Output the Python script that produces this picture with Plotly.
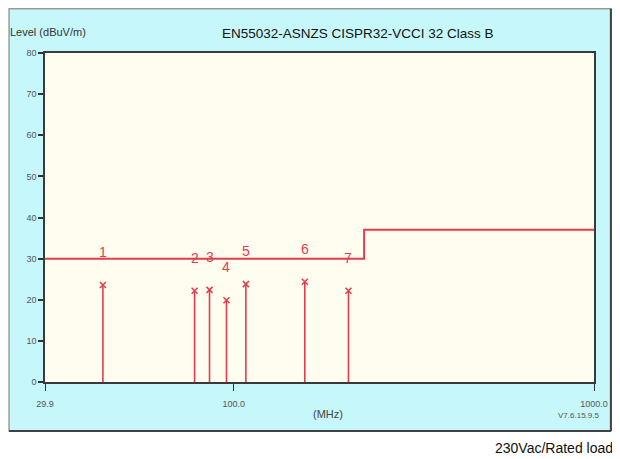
import plotly.graph_objects as go
import math

# ---- data ----
limit_freq = [29.9, 230.0, 230.0, 1000.0]
limit_level = [30.0, 30.0, 37.0, 37.0]

marker_ids = ["1", "2", "3", "4", "5", "6", "7"]
marker_freq = [43.3, 77.8, 85.6, 95.4, 108.0, 157.4, 208.1]
marker_level = [23.6, 22.2, 22.4, 19.9, 23.8, 24.4, 22.2]

x_tickvals = [29.9, 100.0, 1000.0]
x_ticktext = ["29.9", "100.0", "1000.0"]
y_tickvals = [0, 10, 20, 30, 40, 50, 60, 70, 80]

# page puts the figure at an 8px body offset; work in reference px and subtract it
OFF = 8
W, H = 620 - OFF, 459 - OFF
L, R, T, B = 45 - OFF, 598 - OFF, 53 - OFF, 382 - OFF  # plot area in figure px
FONT = "Liberation Sans, Arial, sans-serif"
RED = "#e33c4a"


def px_x(p):  # p in reference px
    return (p - OFF - L) / (R - L)


def px_y(p):
    return (B - (p - OFF)) / (B - T)


fig = go.Figure()

# stems
sx, sy = [], []
for f, v in zip(marker_freq, marker_level):
    sx += [f, f, None]
    sy += [0, v, None]
fig.add_trace(go.Scatter(x=sx, y=sy, mode="lines", line=dict(color=RED, width=1.6),
                         hoverinfo="skip", showlegend=False))

# limit line
fig.add_trace(go.Scatter(x=limit_freq, y=limit_level, mode="lines",
                         line=dict(color=RED, width=2), showlegend=False))

# markers
fig.add_trace(go.Scatter(x=marker_freq, y=marker_level, mode="markers",
                         marker=dict(symbol="x-thin", size=6, line=dict(color=RED, width=1.5)),
                         showlegend=False))

annotations = []
for mid, f, v in zip(marker_ids, marker_freq, marker_level):
    annotations.append(dict(x=math.log10(f), y=v, xref="x", yref="y", text=mid,
                            showarrow=False, yshift=33, xanchor="center", yanchor="middle",
                            font=dict(family=FONT, size=14, color=RED)))

annotations += [
    dict(x=px_x(360), y=px_y(34), xref="paper", yref="paper", xanchor="center", yanchor="middle",
         text="EN55032-ASNZS CISPR32-VCCI 32 Class B", showarrow=False,
         font=dict(family=FONT, size=13.5, color="#111111")),
    dict(x=px_x(8), y=px_y(32), xref="paper", yref="paper", xanchor="left", yanchor="middle",
         text="Level (dBuV/m)", showarrow=False,
         font=dict(family=FONT, size=11, color="#333333")),
    dict(x=px_x(330), y=px_y(414), xref="paper", yref="paper", xanchor="center", yanchor="middle",
         text="(MHz)", showarrow=False,
         font=dict(family=FONT, size=11, color="#444444")),
    dict(x=px_x(605), y=px_y(415), xref="paper", yref="paper", xanchor="right", yanchor="middle",
         text="V7.6.15.9.5", showarrow=False,
         font=dict(family=FONT, size=8, color="#555555")),
    dict(x=px_x(619), y=px_y(448), xref="paper", yref="paper", xanchor="right", yanchor="middle",
         text="230Vac/Rated load", showarrow=False,
         font=dict(family=FONT, size=14, color="#111111")),
]

shapes = [
    dict(type="rect", xref="paper", yref="paper", layer="below",
         x0=px_x(8.8), x1=px_x(615), y0=px_y(431), y1=px_y(8.8),
         fillcolor="#c6f7fb", line=dict(color="#9a9a9a", width=1.5)),
    dict(type="line", xref="paper", yref="paper", layer="below",
         x0=px_x(8.8), x1=px_x(615), y0=px_y(431), y1=px_y(431),
         line=dict(color="#404040", width=2)),
    dict(type="line", xref="paper", yref="paper", layer="below",
         x0=px_x(615), x1=px_x(615), y0=px_y(431), y1=px_y(8.8),
         line=dict(color="#404040", width=2)),
    dict(type="rect", xref="paper", yref="paper", layer="below",
         x0=0, x1=1, y0=0, y1=1, fillcolor="#fffdf0", line=dict(width=0)),
]

fig.update_layout(
    width=W, height=H,
    margin=dict(l=L, r=W - R, t=T, b=H - B, pad=0),
    paper_bgcolor="white", plot_bgcolor="rgba(0,0,0,0)",
    annotations=annotations, shapes=shapes,
    showlegend=False,
)
fig.update_xaxes(type="log", range=[math.log10(29.9), 3], tickvals=x_tickvals, ticktext=x_ticktext,
                 showgrid=False, zeroline=False, showline=True, linecolor="#3a3a3a", linewidth=1.5,
                 mirror=True, ticks="outside", ticklen=7, tickcolor="#333333", tickwidth=1.2,
                 ticklabelstandoff=5,
                 tickfont=dict(family=FONT, size=9, color="#555555"))
fig.update_yaxes(range=[0, 80], tickvals=y_tickvals, showgrid=False, zeroline=False,
                 showline=True, linecolor="#3a3a3a", linewidth=1.5, mirror=True,
                 ticks="outside", ticklen=5, tickcolor="#333333", tickwidth=1.5,
                 tickfont=dict(family=FONT, size=9, color="#555555"))

fig.write_html("out.html")
